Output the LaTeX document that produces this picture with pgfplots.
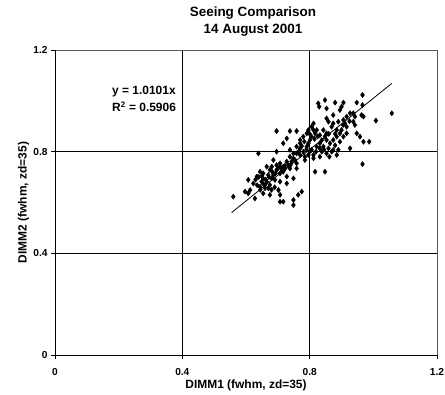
\documentclass[border=0pt]{standalone}
\usepackage{pgfplots}
\pgfplotsset{compat=1.18}
\usepackage{fontspec}
\setmainfont{Liberation Sans}
\begin{document}
\begin{tikzpicture}
\useasboundingbox (0,0) rectangle (445bp,395bp);
\begin{axis}[
  at={(55bp,40bp)}, anchor=south west,
  scale only axis, width=382bp, height=305bp,
  xmin=0, xmax=1.2, ymin=0, ymax=1.2,
  xtick={0,0.4,0.8,1.2}, ytick={0,0.4,0.8,1.2},
  xticklabels={0,0.4,0.8,1.2}, yticklabels={0,0.4,0.8,1.2},
  tick align=outside, major tick length=4bp,
  tick style={black, line width=0.6pt},
  xtick pos=bottom, ytick pos=left,
  grid=major, grid style={black, line width=0.6pt},
  axis line style={draw=none},
  ticklabel style={font=\fontsize{10.2}{11}\selectfont\bfseries},
  xticklabel style={anchor=base, yshift=-16bp},
  xlabel={DIMM1 (fwhm, zd=35)}, ylabel={DIMM2 (fwhm, zd=35)},
  label style={font=\fontsize{12}{13}\selectfont\bfseries},
  xlabel style={at={(axis description cs:0.5,-0.1082)}, anchor=base},
  ylabel style={at={(axis description cs:-0.0746,0.5)}, anchor=base},
  clip=false,
]
\draw[gray!70!black, line width=0.8pt] (axis cs:0,1.2) -- (axis cs:1.2,1.2) -- (axis cs:1.2,0);
\draw[black, line width=0.8pt] (axis cs:0,1.2) -- (axis cs:0,0) -- (axis cs:1.2,0);
\addplot[only marks, mark=diamond*, mark size=2.6pt, black] table {
x y
0.966 1.023
0.848 1.003
0.827 0.990
0.830 0.977
0.880 0.993
0.906 0.993
0.900 0.977
0.895 0.964
0.948 0.993
0.966 0.983
0.937 0.951
0.963 0.944
0.969 0.938
1.058 0.951
1.008 0.922
0.853 0.970
0.874 0.944
0.853 0.931
0.859 0.918
0.874 0.911
0.906 0.925
0.911 0.911
0.937 0.918
0.942 0.905
0.696 0.881
0.738 0.881
0.759 0.881
0.812 0.911
0.806 0.898
0.822 0.885
0.791 0.872
0.780 0.859
0.728 0.852
0.717 0.833
0.770 0.833
0.801 0.846
0.832 0.865
0.853 0.872
0.885 0.885
0.895 0.872
0.906 0.859
0.916 0.872
0.874 0.846
0.864 0.833
0.853 0.846
0.832 0.833
0.948 0.872
0.958 0.859
0.969 0.839
0.987 0.839
0.927 0.813
0.890 0.807
0.885 0.787
0.869 0.800
0.853 0.793
0.838 0.800
0.832 0.780
0.812 0.787
0.812 0.774
0.806 0.807
0.639 0.793
0.696 0.800
0.738 0.807
0.759 0.793
0.770 0.813
0.791 0.820
0.686 0.767
0.707 0.754
0.717 0.741
0.728 0.761
0.749 0.774
0.759 0.754
0.738 0.734
0.759 0.734
0.665 0.741
0.675 0.728
0.696 0.728
0.707 0.715
0.686 0.708
0.644 0.721
0.634 0.702
0.654 0.695
0.665 0.682
0.675 0.669
0.660 0.656
0.644 0.662
0.623 0.675
0.607 0.689
0.613 0.649
0.707 0.682
0.728 0.675
0.702 0.649
0.728 0.702
0.749 0.695
0.560 0.623
0.597 0.643
0.607 0.636
0.628 0.616
0.654 0.636
0.675 0.630
0.707 0.630
0.717 0.603
0.749 0.610
0.749 0.590
0.775 0.643
0.764 0.630
0.817 0.721
0.848 0.721
0.966 0.751
0.707 0.603
0.654 0.715
0.670 0.708
0.681 0.695
0.649 0.682
0.660 0.669
0.670 0.656
0.691 0.689
0.717 0.721
0.723 0.734
0.733 0.747
0.743 0.761
0.754 0.767
0.707 0.741
0.696 0.747
0.681 0.741
0.770 0.787
0.780 0.800
0.785 0.780
0.796 0.833
0.806 0.859
0.817 0.872
0.796 0.885
0.812 0.885
0.770 0.846
0.759 0.820
0.749 0.793
0.738 0.780
0.843 0.885
0.869 0.898
0.890 0.918
0.916 0.938
0.927 0.951
0.942 0.938
0.843 0.820
0.859 0.813
0.874 0.807
0.895 0.839
0.885 0.859
0.822 0.820
0.832 0.813
0.916 0.898
0.796 0.787
0.785 0.767
0.630 0.690
0.640 0.700
0.650 0.705
0.662 0.690
0.672 0.700
0.683 0.720
0.693 0.715
0.700 0.735
0.712 0.730
0.722 0.745
0.690 0.660
0.680 0.650
0.645 0.650
0.635 0.668
0.655 0.672
0.740 0.748
0.765 0.800
0.775 0.822
0.783 0.840
0.800 0.870
0.815 0.850
0.825 0.860
0.838 0.845
0.848 0.860
0.860 0.870
0.880 0.870
0.900 0.885
0.905 0.905
0.925 0.920
0.880 0.825
0.862 0.780
0.845 0.808
0.820 0.800
0.800 0.800
0.790 0.810
};
\addplot[black, line width=0.8pt, no marks] coordinates {(0.555,0.5606) (1.058,1.0687)};
\node[anchor=base west, font=\fontsize{12}{13}\selectfont\bfseries, inner sep=0pt]
  at (axis cs:0.179,1.023) {y = 1.0101x};
\node[anchor=base west, font=\fontsize{12}{13}\selectfont\bfseries, inner sep=0pt]
  at (axis cs:0.179,0.957) {R$^{\mathbf{2}}$ = 0.5906};
\node[anchor=base, font=\fontsize{13.5}{15}\selectfont\bfseries, xshift=7bp, yshift=33bp]
  at (rel axis cs:0.5,1) {Seeing Comparison};
\node[anchor=base, font=\fontsize{13.5}{15}\selectfont\bfseries, xshift=7bp, yshift=16bp]
  at (rel axis cs:0.5,1) {14 August 2001};
\end{axis}
\end{tikzpicture}
\end{document}
